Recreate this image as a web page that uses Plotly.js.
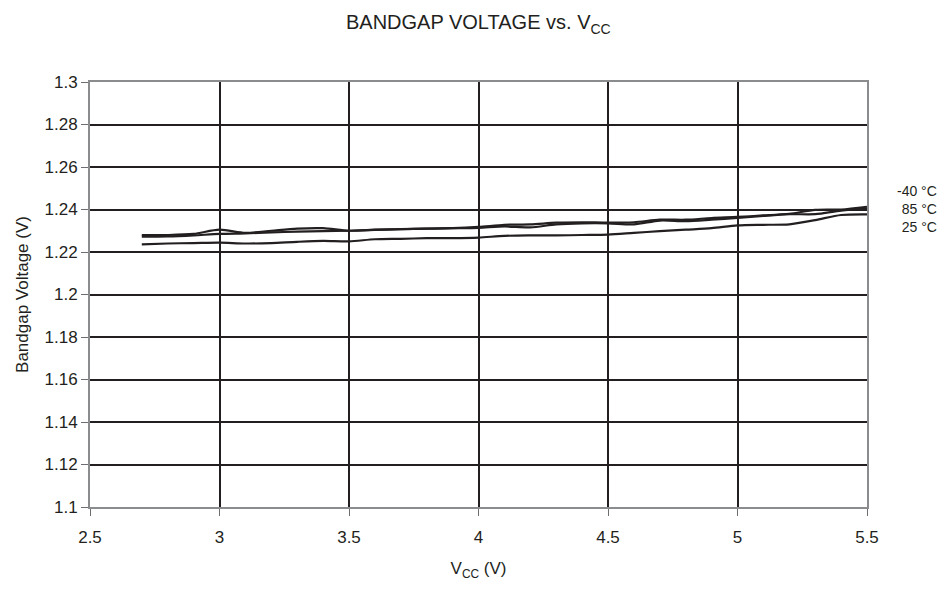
<!DOCTYPE html>
<html>
<head>
<meta charset="utf-8">
<script src="https://cdn.plot.ly/plotly-3.0.1.min.js"></script>
<style>html,body{margin:0;padding:0;background:#fff;}#chart{width:951px;height:590px;}</style>
</head>
<body>
<div id="chart"></div>
<script>
const vcc = [2.7,2.8,2.9,3.0,3.1,3.2,3.3,3.4,3.5,3.6,3.7,3.8,3.9,4.0,4.1,4.2,4.3,4.4,4.5,4.6,4.7,4.8,4.9,5.0,5.1,5.2,5.3,5.4,5.5];
const vM40 = [1.2280,1.2280,1.2285,1.2305,1.2290,1.2300,1.2310,1.2312,1.2300,1.2305,1.2308,1.2310,1.2312,1.2318,1.2328,1.2330,1.2338,1.2340,1.2338,1.2340,1.2352,1.2352,1.2360,1.2365,1.2372,1.2380,1.2398,1.2400,1.2413];
const v85 = [1.2272,1.2273,1.2278,1.2285,1.2288,1.2292,1.2296,1.2298,1.2300,1.2304,1.2307,1.2310,1.2312,1.2314,1.2320,1.2316,1.2330,1.2335,1.2335,1.2330,1.2348,1.2345,1.2352,1.2360,1.2370,1.2378,1.2378,1.2395,1.2405];
const v25 = [1.2236,1.2240,1.2242,1.2244,1.2240,1.2242,1.2248,1.2252,1.2250,1.2260,1.2262,1.2265,1.2265,1.2268,1.2276,1.2278,1.2278,1.2280,1.2282,1.2290,1.2298,1.2305,1.2312,1.2325,1.2328,1.2330,1.2350,1.2374,1.2377];
const seriesNames = ['-40 °C','85 °C','25 °C'];
const labelCenterY = 1.2402;

const lineStyle = {color:'#231f20', width:2.2, shape:'spline', smoothing:0.8};
const data = [vM40, v85, v25].map((ys,i)=>({
  x: vcc, y: ys, type:'scatter', mode:'lines', name: seriesNames[i], line: lineStyle, hoverinfo:'skip'
}));

const font = {family:'"Liberation Sans", Arial, sans-serif', color:'#231f20', size:17};
const layout = {
  width:951, height:590,
  margin:{l:90, r:84, t:82, b:83},
  paper_bgcolor:'#fff', plot_bgcolor:'#fff',
  showlegend:false,
  font: font,
  title:{text:'BANDGAP VOLTAGE vs. V<sub>CC</sub>', font:{family:font.family, size:20, color:'#231f20'}, x:0.503, xanchor:'center', y:0.962, yanchor:'middle'},
  xaxis:{
    range:[2.5,5.5], dtick:0.5, tick0:2.5,
    showgrid:true, gridcolor:'#231f20', gridwidth:2,
    showline:true, linecolor:'#8a8c8e', linewidth:2, mirror:true,
    ticks:'outside', ticklen:7, tickcolor:'#6d6e71', tickwidth:1,
    ticklabelstandoff:7,
    zeroline:false, tickfont:{size:17},
    title:{text:'V<sub>CC</sub> (V)', font:{size:17}, standoff:16}
  },
  yaxis:{
    range:[1.1,1.3], dtick:0.02, tick0:1.1,
    showgrid:true, gridcolor:'#231f20', gridwidth:2,
    showline:true, linecolor:'#8a8c8e', linewidth:2, mirror:true,
    ticks:'outside', ticklen:7, tickcolor:'#6d6e71', tickwidth:1,
    zeroline:false, tickfont:{size:17},
    title:{text:'Bandgap Voltage (V)', font:{size:17}, standoff:12}
  },
  annotations: [{
    text: seriesNames.join('<br>'), xref:'paper', yref:'y', x:1.0914, y:labelCenterY,
    xanchor:'right', yanchor:'middle', align:'right', borderpad:0,
    showarrow:false, font:{size:14, color:'#231f20'}
  }]
};
Plotly.newPlot('chart', data, layout, {displayModeBar:false, staticPlot:true});
</script>
</body>
</html>
